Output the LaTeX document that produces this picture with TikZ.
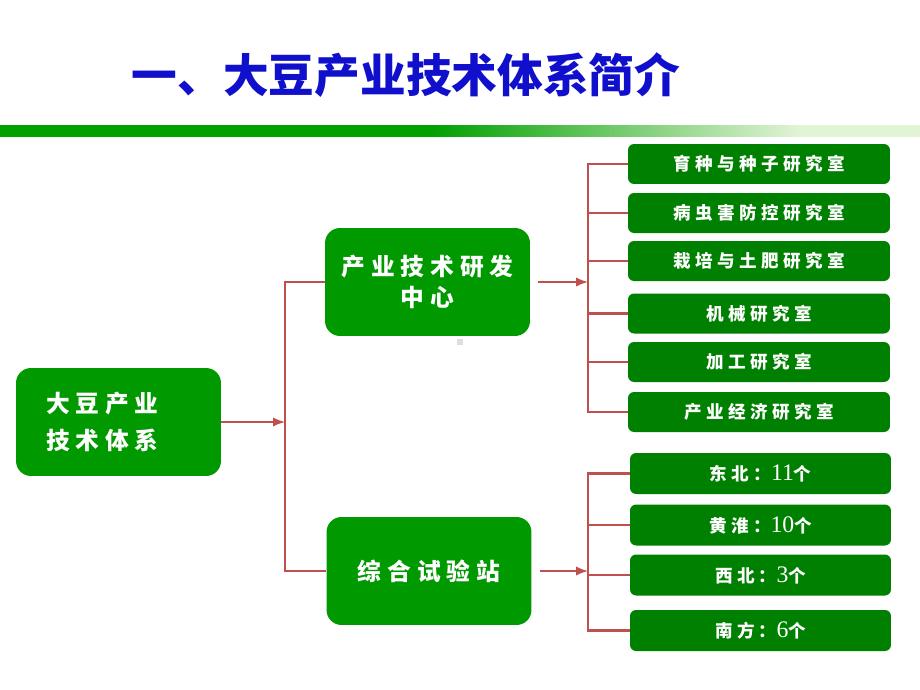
\documentclass[tikz,border=0pt]{standalone}
\usepackage{fontspec}
\newfontfamily\cjk{Noto Sans CJK SC}
\newfontfamily\cjkbox[LetterSpace=25]{Noto Sans CJK SC}
\newfontfamily\numfont{Liberation Serif}
\newcommand\stnum[1]{{\numfont\mdseries\fontsize{13.5}{12}\selectfont #1}}
\definecolor{boxgreen}{RGB}{0,153,0}
\definecolor{labgreen}{RGB}{0,128,0}
\definecolor{linkred}{RGB}{192,80,77}
\definecolor{titleblue}{RGB}{16,16,204}
\definecolor{bargreen}{RGB}{0,160,0}
\definecolor{barlight}{RGB}{226,244,214}
\pgfdeclarehorizontalshading{barshade}{100bp}{color(0bp)=(bargreen); color(48.4bp)=(bargreen);
  color(68.5bp)=(barlight); color(100bp)=(barlight)}
\begin{document}
\begin{tikzpicture}[x=0.02cm,y=-0.02cm,
  conn/.style={draw=linkred,line width=1.3pt},
  bigbox/.style={fill=boxgreen,rounded corners=0.3cm,minimum width=4.1cm,minimum height=2.16cm,text=white},
  labbox/.style={fill=labgreen,rounded corners=0.12cm,minimum width=5.24cm,minimum height=0.8cm,text=white,
    font=\cjkbox\bfseries\fontsize{10}{12}\selectfont}]
\useasboundingbox (0,0) rectangle (920,690);
\fill[white] (0,0) rectangle (920,690);
% title and bar
\node[text=titleblue,font=\cjk\bfseries\fontsize{26}{30}\selectfont] (title) at (406,75) {一、大豆产业技术体系简介};
\shade[shading=barshade] (0,125) rectangle (920,136);
\fill[black!13] (457,339) rectangle (463,345);
% boxes
\node[bigbox,align=left,text width=2.9cm,inner xsep=0.6cm,font=\cjkbox\bfseries\fontsize{13.5}{21}\selectfont] (sys) at (118.5,422) {大豆产业\\技术体系};
\node[bigbox,align=center,font=\cjkbox\bfseries\fontsize{13.5}{18}\selectfont] (rd) at (427.5,282) {产业技术研发\\中心};
\node[bigbox,font=\cjkbox\bfseries\fontsize{13.5}{18}\selectfont] (st) at (429,571) {综合试验站};
\foreach \i/\y/\t in {1/164/育种与种子研究室,2/213/病虫害防控研究室,3/261/栽培与土肥研究室,
    4/313.5/机械研究室,5/362/加工研究室,6/412/产业经济研究室}
  \node[labbox] (lab\i) at (759,\y) {\t};
\foreach \i/\y/\t in {1/473.5/东北：\stnum{11}个,2/525/黄淮：\stnum{10}个,3/575/西北：\stnum{3}个,4/630.5/南方：\stnum{6}个}
  \node[labbox,minimum width=5.22cm,minimum height=0.82cm] (sta\i) at (760.5,\y) {\t};
% connectors
\coordinate (j1) at (285,425);
\coordinate (j2) at (588,283);
\coordinate (j3) at (588,575);
\draw[conn,-latex] (sys.east) -- (sys.east -| j1);
\draw[conn] (rd.west) -| (j1) |- (st.west);
\draw[conn,-latex,shorten <=0.16cm] (rd.east) -- (rd.east -| j2);
\draw[conn] (lab1.west) -| (j2) |- (lab6.west);
\foreach \i in {2,...,5}
  \draw[conn] (lab\i.west) -- (lab\i.west -| j2);
\draw[conn,-latex,shorten <=0.16cm] (st.east) -- (st.east -| j3);
\draw[conn] (sta1.west) -| (j3) |- (sta4.west);
\foreach \i in {2,3}
  \draw[conn] (sta\i.west) -- (sta\i.west -| j3);
\end{tikzpicture}
\end{document}
